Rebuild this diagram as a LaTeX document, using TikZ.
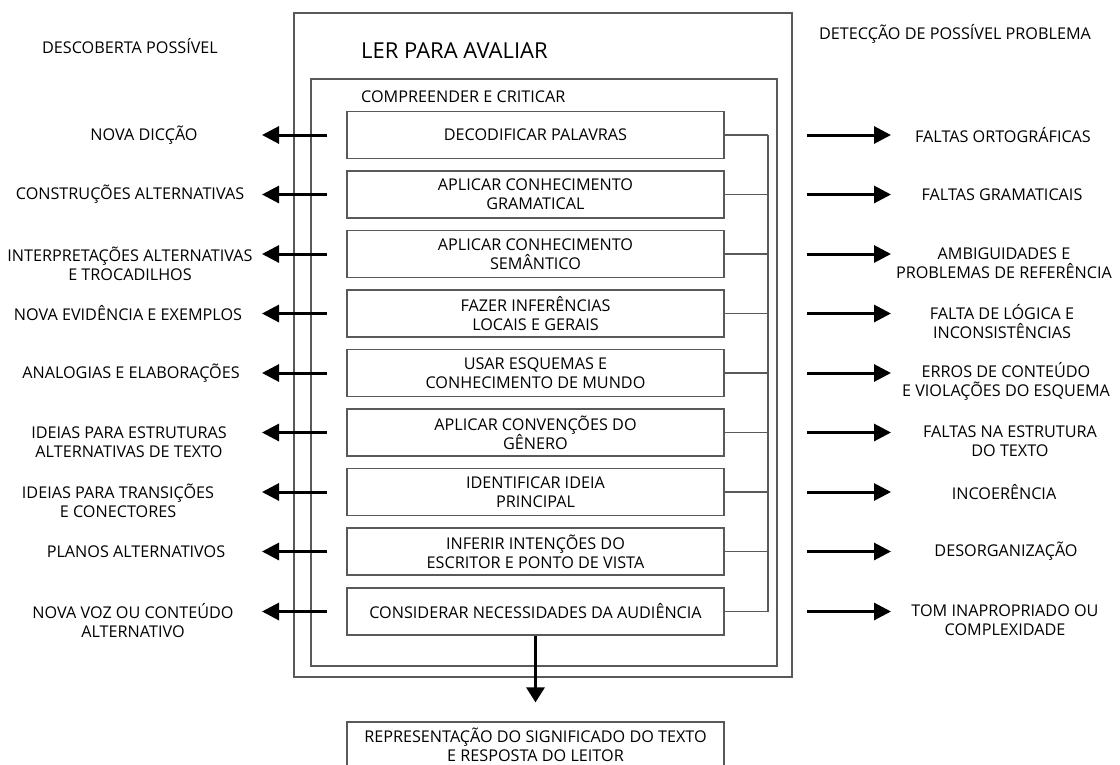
\documentclass[tikz,border=0pt]{standalone}
\usepackage{fontspec}
\setmainfont{Open Sans}
\usetikzlibrary{arrows.meta}
\newcommand\lblfont{\fontsize{16.2}{19}\selectfont}
\begin{document}
\begin{tikzpicture}[x=1pt,y=-1pt,
  frame/.style={draw=black!65, line width=1.2pt},
  stepbox/.style={frame, minimum width=377pt, minimum height=47pt, inner sep=0pt, align=center, font=\lblfont},
  lbl/.style={align=center, font=\lblfont, inner sep=0pt},
  arr/.style={line width=3pt, -{Triangle[length=17pt,width=17pt]}},
  link/.style={draw=black!65, line width=1.2pt}]
\useasboundingbox (0,0) rectangle (1120,764);
\clip (0,0) rectangle (1120,764);

% nested frames
\draw[frame] (294,13) rectangle (792,677);
\draw[frame] (311,79) rectangle (777,666);
\node[anchor=west, inner sep=0pt, font=\fontsize{22}{26}\selectfont] (title) at (361,51) {LER PARA AVALIAR};
\node[anchor=west, lbl] (sub) at (361,97) {COMPREENDER E CRITICAR};

% column headings
\node[lbl] (hl) at (130,46) {DESCOBERTA POSSÍVEL};
\node[lbl] (hr) at (955,34) {DETECÇÃO DE POSSÍVEL PROBLEMA};

% steps
\node[stepbox] (b1) at (535.5,135) {DECODIFICAR PALAVRAS};
\node[stepbox] (b2) at (535.5,194.5) {APLICAR CONHECIMENTO\\GRAMATICAL};
\node[stepbox] (b3) at (535.5,254) {APLICAR CONHECIMENTO\\SEMÂNTICO};
\node[stepbox] (b4) at (535.5,313.5) {FAZER INFERÊNCIAS\\LOCAIS E GERAIS};
\node[stepbox] (b5) at (535.5,373) {USAR ESQUEMAS E\\CONHECIMENTO DE MUNDO};
\node[stepbox] (b6) at (535.5,432.5) {APLICAR CONVENÇÕES DO\\GÊNERO};
\node[stepbox] (b7) at (535.5,492) {IDENTIFICAR IDEIA\\PRINCIPAL};
\node[stepbox] (b8) at (535.5,551.5) {INFERIR INTENÇÕES DO\\ESCRITOR E PONTO DE VISTA};
\node[stepbox] (b9) at (535.5,611.5) {CONSIDERAR NECESSIDADES DA AUDIÊNCIA};

% result (its lower edge runs past the bottom of the page)
\node[frame, minimum width=377pt, minimum height=46pt, inner sep=0pt, align=center, font=\lblfont] (res) at (535.5,745) {REPRESENTAÇÃO DO SIGNIFICADO DO TEXTO\\E RESPOSTA DO LEITOR};

% left labels
\node[lbl] (l1) at (144,135) {NOVA DICÇÃO};
\node[lbl] (l2) at (130,194.5) {CONSTRUÇÕES ALTERNATIVAS};
\node[lbl] (l3) at (130,264) {INTERPRETAÇÕES ALTERNATIVAS\\E TROCADILHOS};
\node[lbl] (l4) at (128,313.5) {NOVA EVIDÊNCIA E EXEMPLOS};
\node[lbl] (l5) at (131,373) {ANALOGIAS E ELABORAÇÕES};
\node[lbl] (l6) at (129,442) {IDEIAS PARA ESTRUTURAS\\ALTERNATIVAS DE TEXTO};
\node[lbl] (l7) at (118,501) {IDEIAS PARA TRANSIÇÕES\\E CONECTORES};
\node[lbl] (l8) at (136,551.5) {PLANOS ALTERNATIVOS};
\node[lbl] (l9) at (133,621) {NOVA VOZ OU CONTEÚDO\\ALTERNATIVO};

% right labels
\node[lbl] (r1) at (1003,135) {FALTAS ORTOGRÁFICAS};
\node[lbl] (r2) at (1002,194.5) {FALTAS GRAMATICAIS};
\node[lbl] (r3) at (1004,263) {AMBIGUIDADES E\\PROBLEMAS DE REFERÊNCIA};
\node[lbl] (r4) at (1002,322) {FALTA DE LÓGICA E\\INCONSISTÊNCIAS};
\node[lbl] (r5) at (1006,381) {ERROS DE CONTEÚDO\\E VIOLAÇÕES DO ESQUEMA};
\node[lbl] (r6) at (1010,441) {FALTAS NA ESTRUTURA\\DO TEXTO};
\node[lbl] (r7) at (1004,492) {INCOERÊNCIA};
\node[lbl] (r8) at (1006,551.5) {DESORGANIZAÇÃO};
\node[lbl] (r9) at (1005,620) {TOM INAPROPRIADO OU\\COMPLEXIDADE};

% connector columns
\coordinate (bus) at (768,0);
\coordinate (lstart) at (327,0);
\coordinate (ltip) at (262,0);
\coordinate (rstart) at (807,0);
\coordinate (rtip) at (891,0);

\foreach \i in {1,...,9} {
  \draw[link] (b\i.east) -- (b\i.east -| bus);
  \draw[arr] (b\i.west -| lstart) -- (b\i.west -| ltip);
  \draw[arr] (b\i.east -| rstart) -- (b\i.east -| rtip);
}
\draw[link] (b1.east -| bus) -- (b9.east -| bus);

% output arrow
\draw[line width=3pt, -{Triangle[length=15pt,width=18pt]}] (b9.south) -- ([yshift=19pt]res.north);
\end{tikzpicture}
\end{document}
